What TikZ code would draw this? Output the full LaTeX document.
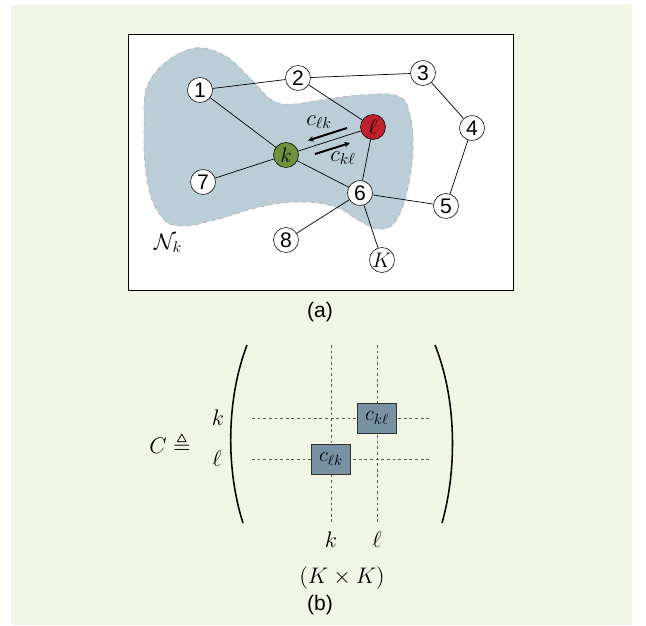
\RequirePackage{fix-cm}
\documentclass[tikz,border=0pt]{standalone}
\usepackage{amsmath, amssymb}
\usepackage[no-math]{fontspec}
\setmainfont{Liberation Sans}
\usepackage{xcolor}
\usetikzlibrary{arrows.meta, positioning, calc}

\definecolor{panelbg}{RGB}{241,245,230}
\definecolor{hoodblue}{RGB}{187,205,214}
\definecolor{agentred}{RGB}{193,33,45}
\definecolor{agentgreen}{RGB}{112,146,58}
\definecolor{entryblue}{RGB}{119,146,162}

\begin{document}
\begin{tikzpicture}[
    x=0.025cm, y=-0.025cm,
    agent/.style={circle, draw, fill=white, minimum size=0.625cm, inner sep=0pt, font=\fontsize{15}{17}\selectfont},
    link/.style={line width=0.5pt},
    weight/.style={line width=1.4pt, -{Stealth[length=4pt, width=4pt]}},
    gridline/.style={dash pattern=on 2pt off 2pt, gray!70!black, line width=0.5pt},
    entry/.style={draw=black!80, fill=entryblue, minimum width=0.975cm, minimum height=0.75cm, inner sep=0pt, font=\fontsize{15}{18}\selectfont},
    panellabel/.style={font=\fontsize{15}{17}\selectfont},
    mlabel/.style={font=\fontsize{16}{19}\selectfont}
]
% Canvas
\useasboundingbox (0,0) rectangle (646,626);
\fill[panelbg] (11,5) rectangle (632,625);

% (a) Network
\draw[fill=white, line width=0.6pt] (128,34) rectangle (513,290);
\filldraw[fill=hoodblue, draw=gray!60, dashed, line width=0.4pt] plot[smooth cycle, tension=0.7] coordinates {
    (150,80) (187,50) (222,54) (250,78) (272,100) (292,104) (320,100) (360,95) (398,96)
    (410,115) (413,150) (407,192) (395,222) (378,229) (358,220) (335,207) (300,202)
    (260,207) (215,220) (180,226) (160,215) (147,180) (144,125)};
\node[mlabel] (hood) at (168,243) {$\mathcal{N}_k$};

% Agents
\node[agent] (n1) at (200,90) {1};
\node[agent] (n2) at (298,78) {2};
\node[agent] (n3) at (423,73) {3};
\node[agent] (n4) at (472,128) {4};
\node[agent] (n5) at (446,206) {5};
\node[agent] (n6) at (360,193) {6};
\node[agent] (n7) at (203,182) {7};
\node[agent] (n8) at (286,240) {8};
\node[agent] (nK) at (382,260) {$K$};
\node[agent, fill=agentgreen] (nk) at (286,155) {$k$};
\node[agent, fill=agentred] (nl) at (373,127) {$\ell$};

% Links
\foreach \a/\b in {n1/n2, n2/n3, n3/n4, n4/n5, n5/n6, n1/nk, n2/nl, nk/nl, nk/n7, nk/n6, nl/n6, n6/n8, n6/nK}
    \draw[link] (\a) -- (\b);

% Combination weights
\coordinate (lk0) at (347,128);
\coordinate (lk1) at (308,140.5);
\coordinate (kl0) at (315,154);
\coordinate (kl1) at (350,143);
\draw[weight] (lk0) -- (lk1);
\draw[weight] (kl0) -- (kl1);
\node[mlabel] (clk) at (319,122) {$c_{\ell k}$};
\node[mlabel] (ckl) at (343,158) {$c_{k\ell}$};

\node[panellabel] (capa) at (320,312) {(a)};

% (b) Matrix
\node[mlabel] (cdef) at (170,444) {$C \triangleq$};
\node[mlabel] (rowk) at (218,418) {$k$};
\node[mlabel] (rowl) at (217,459) {$\ell$};
\node[mlabel] (colk) at (331,540) {$k$};
\node[mlabel] (coll) at (377,540) {$\ell$};

\draw[gridline] (252,418) -- (432,418);
\draw[gridline] (252,459) -- (432,459);
\draw[gridline] (331,345) -- (331,523);
\draw[gridline] (377,345) -- (377,523);

\node[entry] (ekl) at (377,418) {$c_{k\ell}$};
\node[entry] (elk) at (331,459) {$c_{\ell k}$};

\draw[line width=1.1pt] (247,345) .. controls (226,400) and (226,470) .. (243,523);
\draw[line width=1.1pt] (435,345) .. controls (457,400) and (457,470) .. (442,523);

\node[mlabel] (dim) at (342,578) {$(K\times K)$};
\node[panellabel] (capb) at (320,605) {(b)};

\end{tikzpicture}
\end{document}
